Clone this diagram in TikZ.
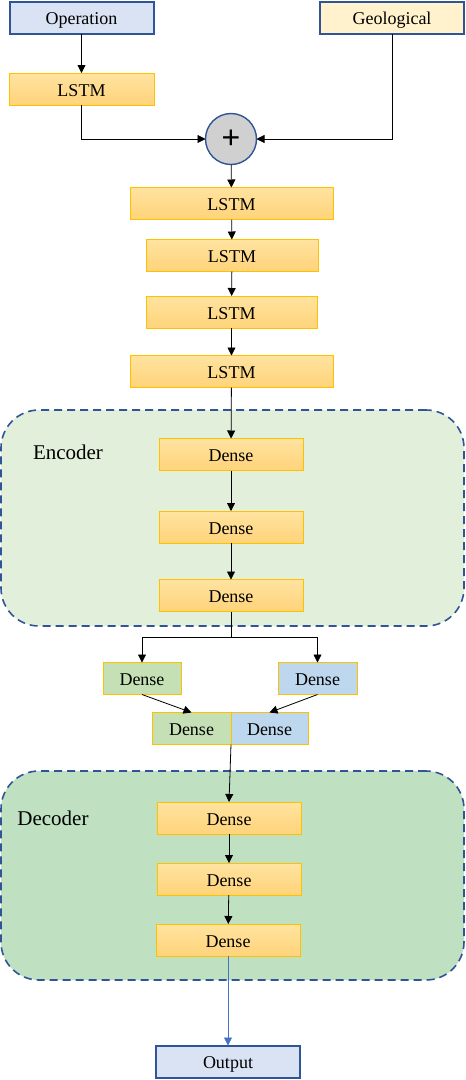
\documentclass[tikz,border=0pt]{standalone}
\usepackage{fontspec}
\setmainfont{Liberation Serif}
\setsansfont{Liberation Sans}
\usepackage{tikz}
\usetikzlibrary{arrows.meta,calc,positioning}
\definecolor{Navy}{HTML}{2F5597}
\definecolor{PaleBlue}{HTML}{DAE3F3}
\definecolor{PaleYellow}{HTML}{FFF2CC}
\definecolor{Amber}{HTML}{FFC000}
\definecolor{AmberTop}{HTML}{FFE3A0}
\definecolor{AmberBot}{HTML}{FFD37A}
\definecolor{LeafGreen}{HTML}{C5E0B4}
\definecolor{SkyBlue}{HTML}{BDD7EE}
\definecolor{EncFill}{HTML}{E2EFDA}
\definecolor{DecFill}{HTML}{BFE1C2}
\definecolor{PlusGray}{HTML}{D0D0D0}
\definecolor{OutArrow}{HTML}{4472C4}

\tikzset{
  every node/.style={font=\fontsize{18}{20}\selectfont,inner sep=0pt,outer sep=0pt},
  boxtext/.style={text height=14pt,text depth=0pt},
  iobox/.style={boxtext,draw=Navy,line width=2pt,minimum width=144,minimum height=32},
  layer/.style={boxtext,draw=Amber,line width=1pt,top color=AmberTop,bottom color=AmberBot,
    minimum height=32},
  half/.style={boxtext,draw=Amber,line width=1pt,minimum height=32},
  groupbox/.style={draw=Navy,line width=1.6pt,dash pattern=on 8pt off 5pt,
    rounded corners=38pt},
  link/.style={-{Triangle[width=8pt,length=8pt]},line width=0.8pt,black}
}

\begin{document}
\begin{tikzpicture}[x=1pt,y=-1pt]
    \useasboundingbox (0,0) rectangle (466,1080);

    % inputs
    \node[iobox,fill=PaleBlue] (op) at (81.5,17.5) {Operation};
    \node[iobox,fill=PaleYellow] (geo) at (392,17.5) {Geological};
    \node[layer,minimum width=145] (lstmA) at (81.5,89) {LSTM};
    \node[circle,draw=Navy,line width=1.4pt,fill=PlusGray,minimum size=51]
      (plus) at (231,139) {\fontsize{32}{32}\selectfont\sffamily +};

    \draw[link] (op) -- (lstmA);
    \draw[link] (lstmA.south) |- (plus.west);
    \draw[link] (geo.south) |- (plus.east);

    % lstm stack
    \node[layer,minimum width=203] (lstmB) at (231.5,203.5) {LSTM};
    \node[layer,minimum width=172] (lstmC) at (232,255.5) {LSTM};
    \node[layer,minimum width=171] (lstmD) at (231.5,312) {LSTM};
    \node[layer,minimum width=203] (lstmE) at (231.5,371.5) {LSTM};
    \draw[link] (plus) -- (lstmB);
    \draw[link] (lstmB) -- (lstmC);
    \draw[link] (lstmC) -- (lstmD);
    \draw[link] (lstmD) -- (lstmE);

    % encoder
    \node[groupbox,fill=EncFill,minimum width=463,minimum height=216]
      (encbox) at (232.5,518) {};
    \node[font=\fontsize{21}{23}\selectfont] (enclab) at (68,452) {Encoder};
    \node[layer,minimum width=144] (encA) at (231,454.5) {Dense};
    \node[layer,minimum width=144] (encB) at (231,527) {Dense};
    \node[layer,minimum width=144] (encC) at (231,595.5) {Dense};
    \draw[link] (lstmE) -- (encA);
    \draw[link] (encA) -- (encB);
    \draw[link] (encB) -- (encC);

    % split and merge
    \coordinate (split) at (231,637);
    \node[half,fill=LeafGreen,minimum width=78] (denG) at (142,678.5) {Dense};
    \node[half,fill=SkyBlue,minimum width=79] (denB) at (317.5,678.5) {Dense};
    \node[half,fill=LeafGreen,minimum width=79] (catG) at (191.5,728.5) {Dense};
    \node[half,fill=SkyBlue,minimum width=77,anchor=west] (catB) at (catG.east) {Dense};
    \draw[line width=0.8pt] (encC) -- (split);
    \draw[link] (split) -| (denG);
    \draw[link] (split) -| (denB);
    \draw[link] (denG.south) -- (catG.north);
    \draw[link] (denB.south) -- (catB.north);

    % decoder
    \node[groupbox,fill=DecFill,minimum width=463,minimum height=209]
      (decbox) at (232.5,875.5) {};
    \node[font=\fontsize{21}{23}\selectfont] (declab) at (53,818) {Decoder};
    \node[layer,minimum width=144] (decA) at (229,818) {Dense};
    \node[layer,minimum width=144] (decB) at (229,879) {Dense};
    \node[layer,minimum width=144] (decC) at (228,940) {Dense};
    \draw[link] (catG.south east) -- (decA.north);
    \draw[link] (decA) -- (decB);
    \draw[link] (decB) -- (decC);

    % output
    \node[iobox,fill=PaleBlue] (out) at (228,1061.5) {Output};
    \draw[link,OutArrow] (decC) -- (out);
  \end{tikzpicture}
\end{document}
